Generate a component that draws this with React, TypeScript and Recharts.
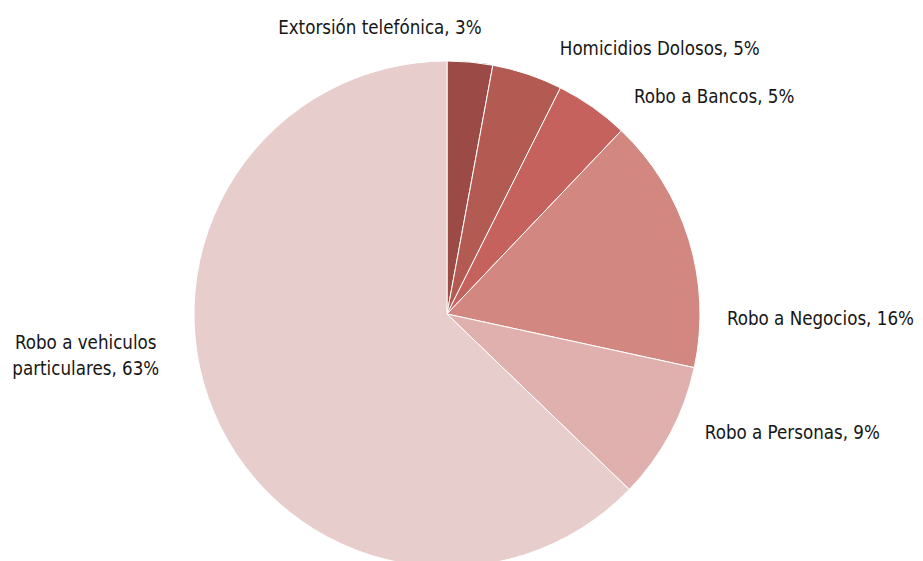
import { PieChart, Pie, Cell } from "recharts";

const categories = [
  "Extorsión telefónica",
  "Homicidios Dolosos",
  "Robo a Bancos",
  "Robo a Negocios",
  "Robo a Personas",
  "Robo a vehiculos particulares",
];
const shares = [2.9, 4.5, 4.7, 16.3, 8.8, 62.8];
const shareLabels = ["3%", "5%", "5%", "16%", "9%", "63%"];

const COLORS = ["#9b4a45", "#b35a52", "#c6625d", "#d38781", "#dfb0ae", "#e8cdcd"];

// nudges from the default outside label spot, per slice
const LABEL_NUDGE: [number, number, "start" | "middle" | "end"][] = [
  [-92, -15, "middle"],
  [26, -7, "start"],
  [30, 6, "start"],
  [19, 85, "start"],
  [17, -10, "start"],
  [-110, -68, "middle"],
];

const data = categories.map((name, i) => ({ name, value: shares[i], pct: shareLabels[i] }));

const RAD = Math.PI / 180;
const FONT = '"DejaVu Sans Condensed", "Liberation Sans Narrow", sans-serif';

function renderLabel(props: any) {
  const { cx, cy, midAngle, outerRadius, index } = props;
  const r = outerRadius + 20;
  const [dx, dy, anchor] = LABEL_NUDGE[index];
  const x = cx + r * Math.cos(-midAngle * RAD) + dx;
  const y = cy + r * Math.sin(-midAngle * RAD) + dy;
  const d = data[index];
  if (index === 5) {
    return (
      <text x={x} y={y} textAnchor={anchor} fill="#161616" fontSize={18.6} fontFamily={FONT}>
        <tspan x={x} dy="-0.2em">Robo a vehiculos</tspan>
        <tspan x={x} dy="1.4em">{`particulares, ${d.pct}`}</tspan>
      </text>
    );
  }
  return (
    <text x={x} y={y} textAnchor={anchor} dominantBaseline="central" fill="#161616" fontSize={18.6} fontFamily={FONT}>
      {`${d.name}, ${d.pct}`}
    </text>
  );
}

export default function App() {
  return (
    <div style={{ position: "absolute", left: 0, top: 0, width: 923, height: 561, background: "#fff" }}>
      <PieChart width={923} height={561} margin={{ top: 0, right: 0, bottom: 0, left: 0 }}>
        <Pie
          data={data}
          dataKey="value"
          nameKey="name"
          cx={447}
          cy={314}
          outerRadius={253}
          startAngle={90}
          endAngle={-270}
          stroke="#ffffff"
          strokeWidth={1}
          label={renderLabel}
          labelLine={false}
          isAnimationActive={false}
        >
          {data.map((d, i) => (
            <Cell key={d.name} fill={COLORS[i]} />
          ))}
        </Pie>
      </PieChart>
    </div>
  );
}
